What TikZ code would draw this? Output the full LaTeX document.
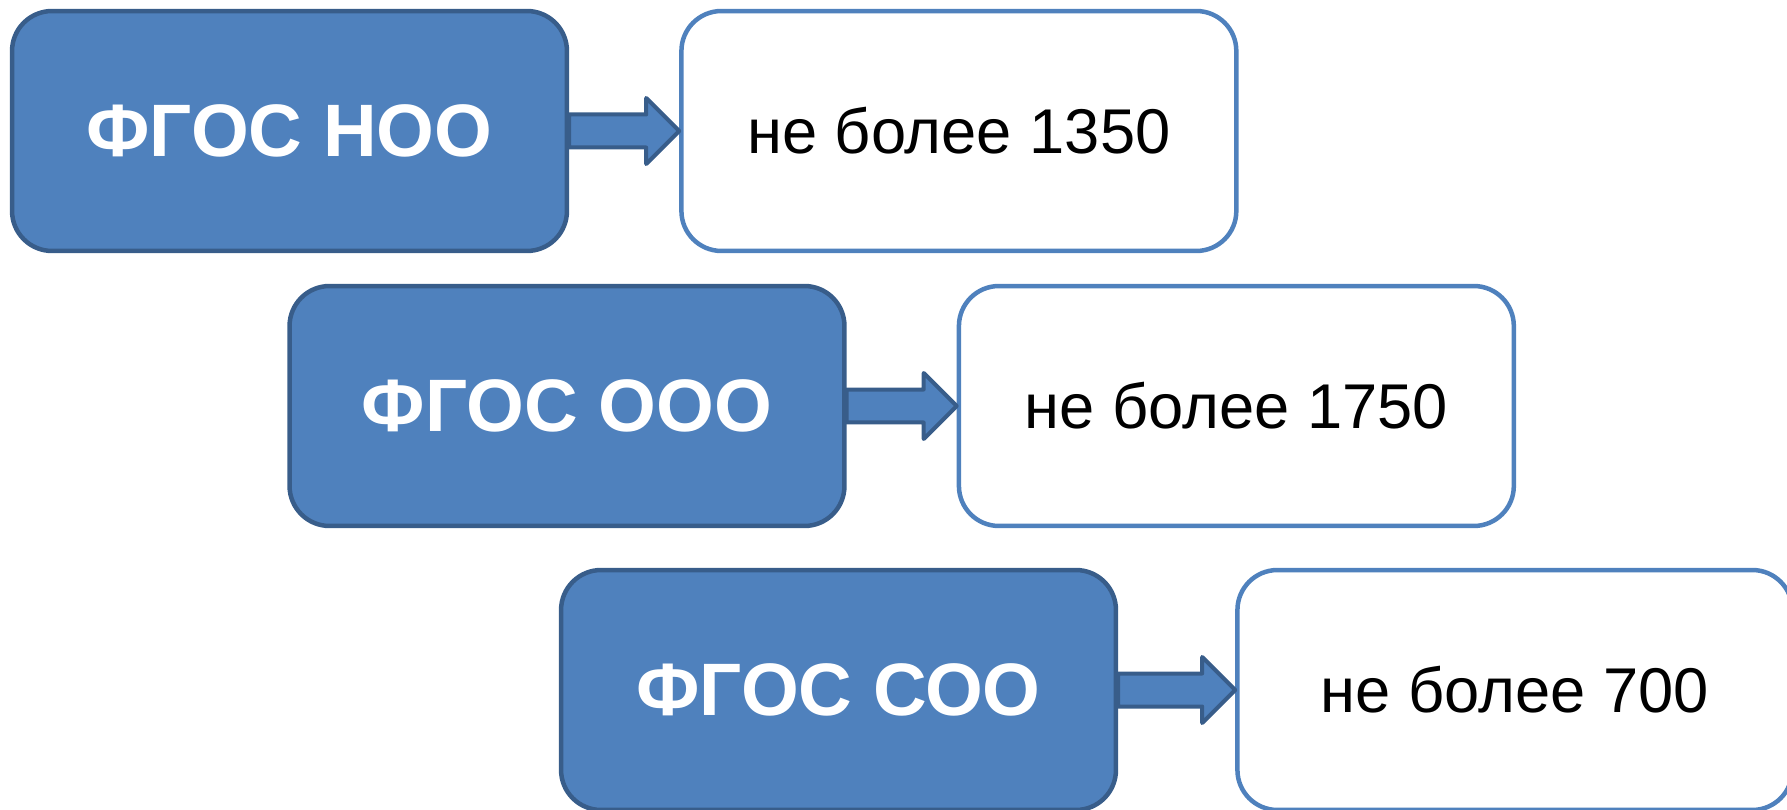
\documentclass[tikz,border=0pt]{standalone}
\usepackage{fontspec}
\setmainfont{Liberation Sans}
\usepackage{xcolor}
\usetikzlibrary{positioning,calc}
\definecolor{fgosblue}{HTML}{4F81BD}
\definecolor{fgosdark}{HTML}{385D8A}
\newcommand{\fgosarrow}[2]{\draw[fgosarr] let \p1=(#1.east), \p2=(#2.west) in
	(\x1,\y1+0.33cm) -- (\x2-0.66cm,\y1+0.33cm) -- (\x2-0.66cm,\y1+0.66cm) -- (\x2,\y1)
	-- (\x2-0.66cm,\y1-0.66cm) -- (\x2-0.66cm,\y1-0.33cm) -- (\x1,\y1-0.33cm) -- cycle;}

\begin{document}
\begin{tikzpicture}[x=0.02cm,y=-0.02cm,
					level/.style={draw=fgosdark,fill=fgosblue,line width=0.09cm,rounded corners=0.8cm,
						minimum width=11.1cm,minimum height=4.8cm,text=white,
						font=\fontsize{42.3}{50}\selectfont\bfseries},
					limit/.style={draw=fgosblue,fill=white,line width=0.09cm,rounded corners=0.8cm,
						minimum width=11.1cm,minimum height=4.8cm,text=black,
						font=\fontsize{36}{43}\selectfont},
					fgosarr/.style={draw=fgosdark,fill=fgosblue,line width=0.08cm,line join=round}]
					\useasboundingbox (0,0) rectangle (1787,810);
					% levels
					\node[level] (noo) at (289.5,131) {ФГОС НОО};
					\node[level] (ooo) at (567,406) {ФГОС ООО};
					\node[level] (soo) at (838.5,690) {ФГОС СОО};
					% limits
					\node[limit,right=2.2cm of noo] (noolim) {не более 1350};
					\node[limit,right=2.2cm of ooo] (ooolim) {не более 1750};
					\node[limit,right=2.34cm of soo] (soolim) {не более 700};
					% arrows
					\fgosarrow{noo}{noolim}
					\fgosarrow{ooo}{ooolim}
					\fgosarrow{soo}{soolim}
				\end{tikzpicture}
\end{document}
